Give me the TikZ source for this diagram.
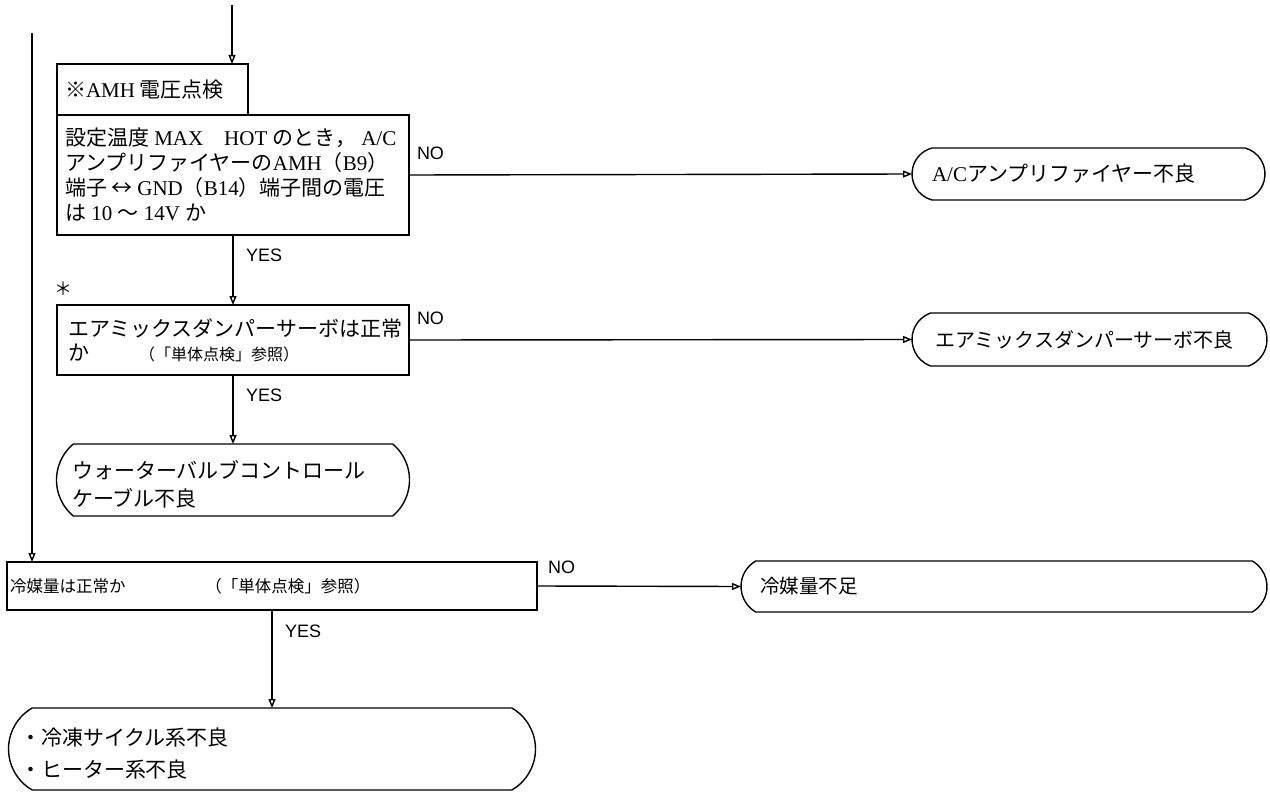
\documentclass[tikz,border=0pt]{standalone}
\usepackage{fontspec}
\setmainfont{Noto Sans CJK JP}
\newfontfamily\latf{Liberation Serif}
\newfontfamily\ynf{Liberation Sans}
\usetikzlibrary{arrows.meta,shapes.misc}
\begin{document}
\begin{tikzpicture}[x=1pt,y=-1pt,
  every node/.style={inner sep=0pt, outer sep=0pt},
  box/.style={draw, line width=1.4pt, rectangle, anchor=north west},
  term/.style={draw, line width=1.4pt, rounded rectangle, anchor=center},
  txt/.style={anchor=west, align=left, font=\fontsize{21}{25}\selectfont},
  yn/.style={anchor=west, font=\ynf\fontsize{18}{20}\selectfont},
  conn/.style={line width=1.4pt, -{Triangle[open,length=9pt,width=7pt]}},
]
\useasboundingbox (0,0) rectangle (1270,792);

% boxes
\node[box, minimum width=191, minimum height=51] (title) at (57,64) {};
\node[box, minimum width=352, minimum height=120] (main) at (57,115) {};
\node[box, minimum width=352, minimum height=70] (damper) at (57,305) {};
\node[box, minimum width=530, minimum height=48] (ref) at (7,562) {};

% terminals
\node[term, minimum width=353, minimum height=52, rounded rectangle arc length=150] (acbad) at (1088.5,174) {};
\node[term, minimum width=355, minimum height=53, rounded rectangle arc length=140] (dbad) at (1089.5,339.5) {};
\node[term, minimum width=353, minimum height=72, rounded rectangle arc length=100] (water) at (233,480) {};
\node[term, minimum width=526, minimum height=51, rounded rectangle arc length=120] (refbad) at (1004,586.5) {};
\node[term, minimum width=527, minimum height=82, rounded rectangle arc length=120] (final) at (272,749) {};

% texts
\node[txt] (ttitle) at (65,90) {※{\latf AMH} 電圧点検};
\node[txt] (tmain) at (65,175) {設定温度{\latf\ MAX\quad HOT\ }のとき，{\latf\ A/C}\\
アンプリファイヤーの{\latf AMH}（{\latf B9}）\\
端子 ↔ {\latf GND}（{\latf B14}）端子間の電圧\\
は{\latf\ 10 }～{\latf\ 14V }か};
\node[txt, font=\fontsize{21}{24}\selectfont] (tdamper) at (68,340) {エアミックスダンパーサーボは正常\\
か\hspace{50pt}{\fontsize{16}{24}\selectfont （「単体点検」参照）}};
\node[txt, font=\fontsize{21}{28}\selectfont] (twater) at (72,484) {ウォーターバルブコントロール\\ケーブル不良};
\node[txt, font=\fontsize{16.5}{20}\selectfont] (tref) at (10,586) {冷媒量は正常か\hspace{80pt}（「単体点検」参照）};
\node[txt] (tacbad) at (932,174) {{\latf A/C}アンプリファイヤー不良};
\node[txt, font=\fontsize{20}{24}\selectfont] (tdbad) at (935,340) {エアミックスダンパーサーボ不良};
\node[txt, font=\fontsize{19.5}{24}\selectfont] (trefbad) at (760,586) {冷媒量不足};
\node[txt, font=\fontsize{21}{32}\selectfont] (tfinal) at (20,754) {・冷凍サイクル系不良\\・ヒーター系不良};
\node[anchor=center, font=\fontsize{18}{20}\selectfont] (star) at (63,289) {＊};

% labels
\node[yn] (no1) at (417,153) {NO};
\node[yn] (no2) at (417,318) {NO};
\node[yn] (no3) at (548,567) {NO};
\node[yn] (yes1) at (246,255) {YES};
\node[yn] (yes2) at (246,395) {YES};
\node[yn] (yes3) at (285,631) {YES};

% connectors
\coordinate (topin) at (232,5);
\coordinate (lefttop) at (32,33);
\draw[conn] (topin) -- (topin |- title.north);
\draw[conn] (lefttop) -- (lefttop |- ref.north);
\draw[conn] (main.east) -- (acbad.west);
\draw[conn] (main.south) -- (damper.north);
\draw[conn] (damper.east) -- (dbad.west);
\draw[conn] (damper.south) -- (water.north);
\draw[conn] (ref.east) -- (refbad.west);
\draw[conn] (ref.south) -- (final.north);
\end{tikzpicture}
\end{document}
